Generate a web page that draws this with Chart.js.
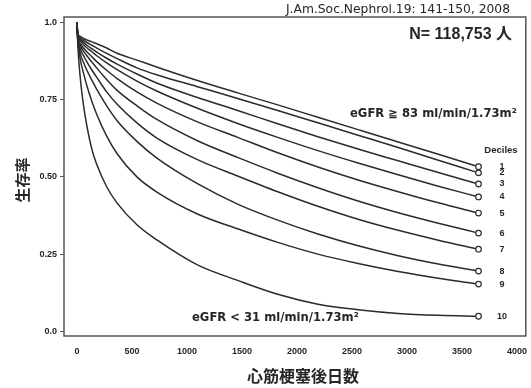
<!DOCTYPE html>
<html>
<head>
<meta charset="utf-8">
<script src="https://cdn.jsdelivr.net/npm/chart.js@4/dist/chart.umd.min.js"></script>
<style>
  body { margin: 0; background: #fff; }
  #wrap { width: 531px; height: 388px; }
</style>
</head>
<body>
<div id="wrap"><canvas id="myChart" width="531" height="388"></canvas></div>
<script>
"use strict";

// days after myocardial infarction
const days = [0, 7, 30, 60, 90, 135, 180, 270, 365, 545, 730, 1095, 1460, 1825, 2190, 2555, 2920, 3285, 3650];

// survival by eGFR decile (1 = highest eGFR, 10 = lowest)
const decile1 = [1, 0.965, 0.955, 0.948, 0.943, 0.937, 0.931, 0.917, 0.9, 0.878, 0.855, 0.812, 0.772, 0.733, 0.693, 0.653, 0.613, 0.573, 0.533];
const decile2 = [1, 0.963, 0.95, 0.942, 0.935, 0.926, 0.917, 0.9, 0.883, 0.853, 0.83, 0.792, 0.754, 0.715, 0.675, 0.635, 0.595, 0.554, 0.513];
const decile3 = [1, 0.96, 0.945, 0.935, 0.926, 0.915, 0.904, 0.884, 0.865, 0.833, 0.803, 0.757, 0.715, 0.672, 0.63, 0.59, 0.552, 0.514, 0.477];
const decile4 = [1, 0.958, 0.94, 0.928, 0.918, 0.905, 0.892, 0.869, 0.847, 0.81, 0.777, 0.722, 0.673, 0.628, 0.585, 0.545, 0.507, 0.47, 0.435];
const decile5 = [1, 0.955, 0.932, 0.917, 0.905, 0.889, 0.873, 0.845, 0.818, 0.775, 0.738, 0.678, 0.628, 0.578, 0.532, 0.49, 0.452, 0.416, 0.383];
const decile6 = [1, 0.953, 0.925, 0.907, 0.892, 0.872, 0.852, 0.815, 0.78, 0.73, 0.685, 0.617, 0.563, 0.512, 0.465, 0.422, 0.384, 0.35, 0.318];
const decile7 = [1, 0.95, 0.915, 0.892, 0.872, 0.846, 0.822, 0.775, 0.735, 0.675, 0.625, 0.556, 0.503, 0.452, 0.405, 0.363, 0.327, 0.295, 0.266];
const decile8 = [1, 0.947, 0.9, 0.87, 0.845, 0.813, 0.783, 0.73, 0.682, 0.615, 0.56, 0.478, 0.412, 0.36, 0.315, 0.277, 0.245, 0.218, 0.195];
const decile9 = [1, 0.943, 0.88, 0.835, 0.795, 0.745, 0.702, 0.632, 0.575, 0.5, 0.45, 0.38, 0.332, 0.288, 0.25, 0.22, 0.194, 0.172, 0.153];
const decile10 = [1, 0.93, 0.82, 0.73, 0.665, 0.59, 0.54, 0.468, 0.415, 0.345, 0.295, 0.215, 0.165, 0.12, 0.088, 0.07, 0.058, 0.052, 0.049];

const deciles = [decile1, decile2, decile3, decile4, decile5, decile6, decile7, decile8, decile9, decile10];
const decileLabels = ["1", "2", "3", "4", "5", "6", "7", "8", "9", "10"];

const xTicks = [0, 500, 1000, 1500, 2000, 2500, 3000, 3500, 4000];
const yTicks = [0, 0.25, 0.5, 0.75, 1];
const yTickLabels = ["0.0", "0.25", "0.50", "0.75", "1.0"];

const citation = "J.Am.Soc.Nephrol.19: 141-150, 2008";
const sampleSize = "N= 118,753 人";
const highLabel = "eGFR ≧ 83 ml/min/1.73m²";
const lowLabel = "eGFR < 31 ml/min/1.73m²";
const yTitle = "生存率";
const xTitle = "心筋梗塞後日数";

const lineColor = "#2b2b2b";
const textColor = "#262626";
const tickFont = { family: "Liberation Sans", size: 9, weight: "bold" };

const datasets = deciles.map((values, i) => ({
  label: "Decile " + decileLabels[i],
  data: values.map((v, j) => ({ x: days[j], y: v })),
  borderColor: lineColor,
  borderWidth: 1.5,
  cubicInterpolationMode: "monotone",
  pointRadius: values.map((v, j) => (j === values.length - 1 ? 2.8 : 0)),
  pointBorderWidth: 1.2,
  pointBorderColor: lineColor,
  pointBackgroundColor: "#fff",
  fill: false,
}));

// frame and free text
const overlay = {
  id: "overlay",
  afterDraw(chart) {
    const { ctx, chartArea: a, scales } = chart;
    ctx.save();
    ctx.strokeStyle = "#555";
    ctx.lineWidth = 1.5;
    ctx.strokeRect(a.left, a.top, a.right - a.left, a.bottom - a.top);

    ctx.fillStyle = textColor;
    ctx.textBaseline = "middle";

    ctx.textAlign = "right";
    ctx.font = "12.3px 'DejaVu Sans'";
    ctx.fillText(citation, 510, 10);

    ctx.font = "bold 16px 'Liberation Sans', 'Noto Sans CJK JP'";
    ctx.fillText(sampleSize, 512, 35);

    ctx.textAlign = "left";
    ctx.font = "bold 11.6px 'DejaVu Sans'";
    ctx.fillText(highLabel, 350, 114);
    ctx.fillText(lowLabel, 192, 318);

    ctx.textAlign = "center";
    ctx.font = "bold 9.5px 'Liberation Sans'";
    ctx.fillText("Deciles", 501, 150);

    ctx.font = "bold 9px 'Liberation Sans'";
    deciles.forEach((values, i) => {
      const yPix = scales.y.getPixelForValue(values[values.length - 1]);
      ctx.fillText(decileLabels[i], 502, yPix);
    });

    ctx.font = "bold 16px 'Noto Sans CJK JP'";
    ctx.fillText(xTitle, 303, 376);

    ctx.translate(22, 180);
    ctx.rotate(-Math.PI / 2);
    ctx.font = "bold 15px 'Noto Sans CJK JP'";
    ctx.fillText(yTitle, 0, 0);
    ctx.restore();
  },
};

const ctx = document.getElementById("myChart").getContext("2d");
const myChart = new Chart(ctx, {
  type: "line",
  data: { datasets: datasets },
  plugins: [overlay],
  options: {
    responsive: false,
    animation: false,
    devicePixelRatio: 1,
    layout: { padding: { top: 17, right: 4, left: 0, bottom: 0 } },
    plugins: {
      legend: { display: false },
      tooltip: { enabled: false },
    },
    scales: {
      x: {
        type: "linear",
        min: -118,
        max: 4080,
        afterBuildTicks: (scale) => {
          scale.ticks = xTicks.map((v) => ({ value: v }));
        },
        afterFit: (scale) => {
          scale.height = 52;
          scale.paddingLeft = 0;
          scale.paddingRight = 0;
        },
        grid: { display: false },
        border: { display: false },
        ticks: {
          padding: 2,
          maxRotation: 0,
          autoSkip: false,
          color: textColor,
          font: tickFont,
          callback: (v) => String(v),
        },
      },
      y: {
        min: -0.015,
        max: 1.0175,
        afterBuildTicks: (scale) => {
          scale.ticks = yTicks.map((v) => ({ value: v }));
        },
        afterFit: (scale) => {
          scale.width = 64;
          scale.paddingTop = 0;
          scale.paddingBottom = 0;
        },
        grid: {
          drawOnChartArea: false,
          drawTicks: true,
          tickLength: 4,
          tickColor: "#555",
        },
        border: { display: false },
        ticks: {
          padding: 3,
          color: textColor,
          font: tickFont,
          callback: (v) => yTickLabels[yTicks.indexOf(v)],
        },
      },
    },
  },
});
</script>
</body>
</html>
